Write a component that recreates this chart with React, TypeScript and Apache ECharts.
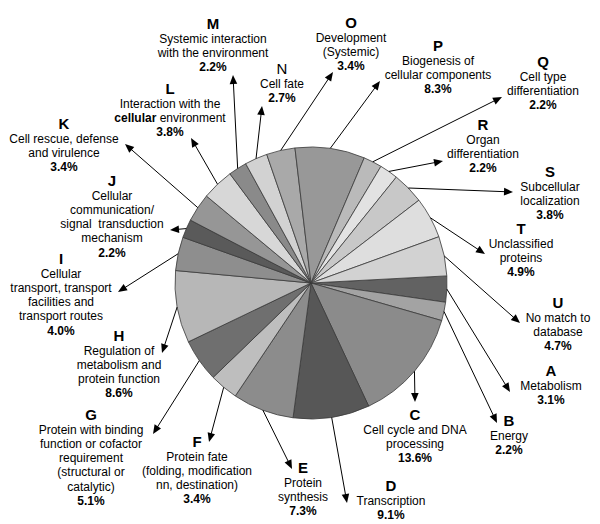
import React, { useEffect, useRef } from "react";
import * as echarts from "echarts";

// ---- data ----
const letters = ["A","B","C","D","E","F","G","H","I","J","K","L","M","N","O","P","Q","R","S","T","U"];
const values = [3.1, 2.2, 13.6, 9.1, 7.3, 3.4, 5.1, 8.6, 4.0, 2.2, 3.4, 3.8, 2.2, 2.7, 3.4, 8.3, 2.2, 2.2, 3.8, 4.9, 4.7];
const descriptions: string[][] = [
  ["Metabolism"],
  ["Energy"],
  ["Cell cycle and DNA", "processing"],
  ["Transcription"],
  ["Protein", "synthesis"],
  ["Protein fate", "(folding, modification", "nn, destination)"],
  ["Protein with binding", "function or cofactor", "requirement", "(structural or", "catalytic)"],
  ["Regulation of", "metabolism and", "protein function"],
  ["Cellular", "transport, transport", "facilities and", "transport routes"],
  ["Cellular", "communication/", "signal  transduction", "mechanism"],
  ["Cell rescue, defense", "and virulence"],
  ["Interaction with the", "{b|cellular}{d| environment}"],
  ["Systemic interaction", "with the environment"],
  ["Cell fate"],
  ["Development", "(Systemic)"],
  ["Biogenesis of", "cellular components"],
  ["Cell type", "differentiation"],
  ["Organ", "differentiation"],
  ["Subcellular", "localization"],
  ["Unclassified", "proteins"],
  ["No match to", "database"],
];

// ---- styles / layout ----
const sliceColors = [
  "#626262", "#a3a3a3", "#8b8b8b", "#575757", "#8c8c8c", "#bebebe", "#6f6f6f",
  "#b7b7b7", "#8e8e8e", "#5a5a5a", "#969696", "#d7d7d7", "#8a8a8a", "#d2d2d2",
  "#a9a9a9", "#989898", "#bababa", "#e2e2e2", "#c8c8c8", "#dedede", "#d2d2d2",
];
const letterBold = letters.map((l) => l !== "N");
// label anchor (center x, letter y)
const labelPos: number[][] = [
  [551, 370], [509, 420], [415, 414], [391, 485], [303, 467], [197, 441], [91, 414],
  [119, 335], [61, 258], [112, 180], [64, 123], [170, 88], [213, 23], [282, 68],
  [351, 22], [438, 45], [543, 61], [483, 124], [550, 171], [521, 228], [558, 302],
];
// arrow tip positions
const arrowTips: number[][] = [
  [510, 392], [497, 423], [415, 402], [347, 503], [292, 469], [209, 442], [153, 434],
  [162, 353], [118, 292], [170, 230], [125, 144], [191, 138], [233, 75], [262, 106],
  [333, 72], [380, 81], [502, 97], [443, 161], [513, 192], [485, 254], [520, 323],
];

const CX = 311;
const CY = 283;
const R = 136;
const START = 3;
const FONT = 'Arial, "Liberation Sans", sans-serif';

const total = values.reduce((a, b) => a + b, 0);
const midAngles: number[] = (() => {
  let cum = 0;
  return values.map((v) => {
    const mid = START - ((cum + v / 2) / total) * 360;
    cum += v;
    return (mid * Math.PI) / 180;
  });
})();

export default function App() {
  const ref = useRef<HTMLDivElement>(null);
  useEffect(() => {
    document.body.style.margin = "0";
    if (!ref.current) return;
    const chart = echarts.init(ref.current, null, { renderer: "svg" });
    chart.setOption({
      animation: false,
      backgroundColor: "#ffffff",
      series: [
        {
          type: "pie",
          center: [CX, CY],
          radius: R,
          startAngle: START,
          clockwise: true,
          silent: true,
          label: { show: false },
          labelLine: { show: false },
          itemStyle: { borderColor: "#3a3a3a", borderWidth: 0.8 },
          data: values.map((v, i) => ({
            name: letters[i],
            value: v,
            itemStyle: { color: sliceColors[i] },
          })),
          z: 1,
        },
        {
          type: "custom",
          coordinateSystem: "none",
          silent: true,
          z: 5,
          data: values.map((v, i) => i),
          renderItem: (params: any) => {
            const i = params.dataIndex;
            const a = midAngles[i];
            const sx = CX + R * Math.cos(a);
            const sy = CY - R * Math.sin(a);
            const [tx, ty] = arrowTips[i];
            let dx = tx - sx;
            let dy = ty - sy;
            const len = Math.sqrt(dx * dx + dy * dy);
            dx /= len;
            dy /= len;
            const hl = 9;
            const hw = 3.8;
            const bx = tx - dx * hl;
            const by = ty - dy * hl;
            const px = -dy;
            const py = dx;
            const [lx, ly] = labelPos[i];
            const children: any[] = [
              {
                type: "line",
                shape: { x1: sx, y1: sy, x2: bx + dx * 2, y2: by + dy * 2 },
                style: { stroke: "#000", lineWidth: 1 },
              },
              {
                type: "polygon",
                shape: {
                  points: [
                    [tx, ty],
                    [bx + px * hw, by + py * hw],
                    [bx - px * hw, by - py * hw],
                  ],
                },
                style: { fill: "#000" },
              },
              {
                type: "text",
                style: {
                  text: letters[i],
                  x: lx,
                  y: ly,
                  align: "center",
                  verticalAlign: "middle",
                  fontFamily: FONT,
                  fontSize: 15,
                  fontWeight: letterBold[i] ? "bold" : "normal",
                  fill: "#000",
                },
              },
            ];
            const lines = descriptions[i];
            lines.forEach((t, k) => {
              const txt = t.indexOf("{") === 0 ? t : "{d|" + t + "}";
              children.push({
                type: "text",
                style: {
                  text: txt,
                  x: lx,
                  y: ly + 15.5 + 14.3 * k,
                  align: "center",
                  verticalAlign: "middle",
                  fill: "#000",
                  rich: {
                    d: { fontFamily: FONT, fontSize: 12, fill: "#000" },
                    b: { fontFamily: FONT, fontSize: 12, fontWeight: "bold", fill: "#000" },
                  },
                },
              });
            });
            children.push({
              type: "text",
              style: {
                text: values[i].toFixed(1) + "%",
                x: lx,
                y: ly + 15.5 + 14.3 * lines.length,
                align: "center",
                verticalAlign: "middle",
                fontFamily: FONT,
                fontSize: 12,
                fontWeight: "bold",
                fill: "#000",
              },
            });
            return { type: "group", children };
          },
        },
      ],
    });
    return () => chart.dispose();
  }, []);
  return <div ref={ref} style={{ width: 600, height: 524 }} />;
}
